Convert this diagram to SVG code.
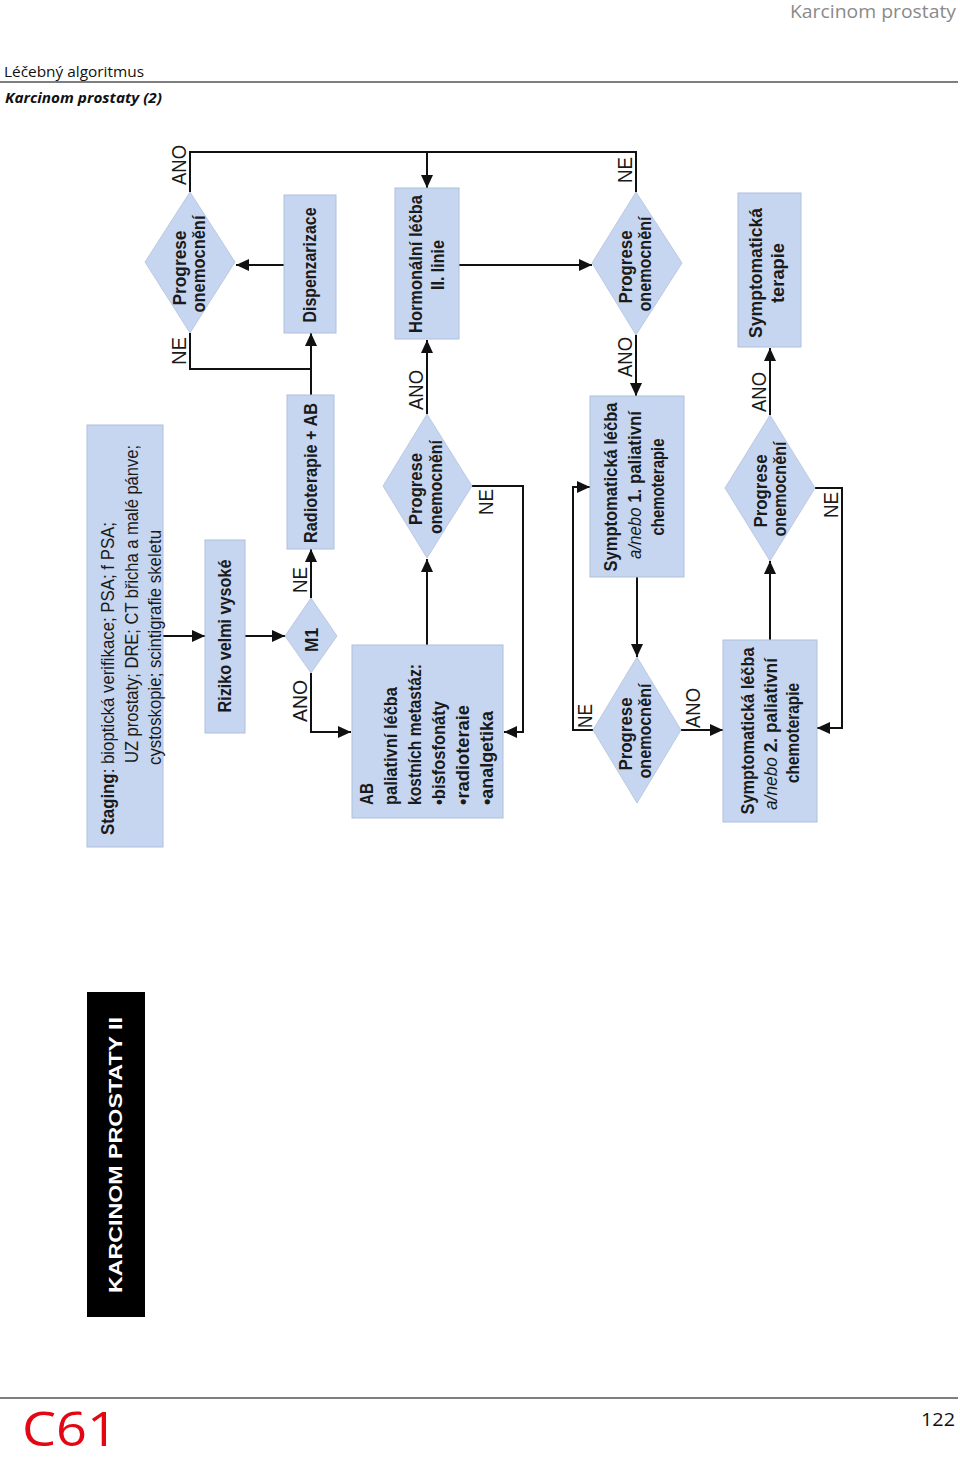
<svg xmlns="http://www.w3.org/2000/svg" width="960" height="1458" viewBox="0 0 960 1458">
<style>
.box{fill:#c6d6f1;stroke:#aebfdc;stroke-width:1}
.dia{fill:#c6d6f1;stroke:#b3c2dc;stroke-width:0.8}
.c{fill:none;stroke:#111;stroke-width:2}
.t{font-family:"Liberation Sans",Arial,sans-serif;font-size:18px;font-weight:bold;fill:#1a1a1a}
.n{font-family:"Liberation Sans",Arial,sans-serif;font-size:19px;fill:#1a1a1a}
.lbl{font-family:"Liberation Sans",Arial,sans-serif;font-size:21px;fill:#1a1a1a}
.hd{font-family:"Open Sans","Noto Sans",sans-serif}
</style>
<defs>
<marker id="ah" markerUnits="userSpaceOnUse" markerWidth="13" markerHeight="12" refX="13" refY="6" orient="auto">
<path d="M0,0 L13,6 L0,12 z" fill="#111"/>
</marker>
</defs>
<rect width="960" height="1458" fill="#fff"/>

<g id="page">
<text class="hd" x="956" y="18" font-size="18" fill="#8a8a8a" text-anchor="end" textLength="166" lengthAdjust="spacingAndGlyphs">Karcinom prostaty</text>
<text class="hd" x="4" y="77" font-size="15" fill="#111" textLength="140" lengthAdjust="spacingAndGlyphs">Léčebný algoritmus</text>
<line x1="0" y1="82" x2="958" y2="82" stroke="#555" stroke-width="1.5"/>
<text class="hd" x="5" y="103" font-size="15" font-weight="bold" font-style="italic" fill="#111" textLength="157" lengthAdjust="spacingAndGlyphs">Karcinom prostaty (2)</text>
<line x1="0" y1="1398" x2="958" y2="1398" stroke="#555" stroke-width="1.5"/>
<text class="hd" x="22" y="1446" font-size="48" fill="#e30613" textLength="96" lengthAdjust="spacingAndGlyphs">C61</text>
<text class="hd" x="955" y="1426" font-size="19" fill="#111" text-anchor="end" textLength="34" lengthAdjust="spacingAndGlyphs">122</text>
</g>

<g id="title-band">
<rect x="87" y="992" width="58" height="325" fill="#000"/>
<text transform="translate(122,1155) rotate(-90)" text-anchor="middle" font-family="Liberation Sans,Arial,sans-serif" font-size="18" font-weight="bold" fill="#fff" textLength="276" lengthAdjust="spacingAndGlyphs">KARCINOM PROSTATY II</text>
</g>

<g id="connectors">
<line class="c" x1="163" y1="636" x2="205" y2="636" marker-end="url(#ah)"/>
<line class="c" x1="245" y1="636" x2="285" y2="636" marker-end="url(#ah)"/>
<line class="c" x1="311" y1="598" x2="311" y2="549" marker-end="url(#ah)"/>
<polyline class="c" points="311,673 311,732 351,732" marker-end="url(#ah)"/>
<line class="c" x1="311" y1="395" x2="311" y2="333" marker-end="url(#ah)"/>
<polyline class="c" points="311,369 190,369 190,333"/>
<line class="c" x1="284" y1="265" x2="236" y2="265" marker-end="url(#ah)"/>
<polyline class="c" points="190,192 190,152 636,152 636,192"/>
<line class="c" x1="427" y1="152" x2="427" y2="188" marker-end="url(#ah)"/>
<line class="c" x1="459" y1="265" x2="592" y2="265" marker-end="url(#ah)"/>
<line class="c" x1="636" y1="335" x2="636" y2="396" marker-end="url(#ah)"/>
<line class="c" x1="637" y1="577" x2="637" y2="657" marker-end="url(#ah)"/>
<polyline class="c" points="593,730 573,730 573,487 590,487" marker-end="url(#ah)"/>
<line class="c" x1="681" y1="730" x2="723" y2="730" marker-end="url(#ah)"/>
<line class="c" x1="770" y1="640" x2="770" y2="561" marker-end="url(#ah)"/>
<line class="c" x1="770" y1="415" x2="770" y2="348" marker-end="url(#ah)"/>
<polyline class="c" points="815,488 842,488 842,728 817,728" marker-end="url(#ah)"/>
<line class="c" x1="427" y1="645" x2="427" y2="559" marker-end="url(#ah)"/>
<line class="c" x1="427" y1="414" x2="427" y2="340" marker-end="url(#ah)"/>
<polyline class="c" points="472,486 523,486 523,732 504,732" marker-end="url(#ah)"/>

<text class="lbl" transform="translate(186,165) rotate(-90)" text-anchor="middle" textLength="40" lengthAdjust="spacingAndGlyphs">ANO</text>
<text class="lbl" transform="translate(186,351) rotate(-90)" text-anchor="middle" textLength="28" lengthAdjust="spacingAndGlyphs">NE</text>
<text class="lbl" transform="translate(307,580) rotate(-90)" text-anchor="middle" textLength="26" lengthAdjust="spacingAndGlyphs">NE</text>
<text class="lbl" transform="translate(307,701) rotate(-90)" text-anchor="middle" textLength="42" lengthAdjust="spacingAndGlyphs">ANO</text>
<text class="lbl" transform="translate(423,390) rotate(-90)" text-anchor="middle" textLength="40" lengthAdjust="spacingAndGlyphs">ANO</text>
<text class="lbl" transform="translate(493,502) rotate(-90)" text-anchor="middle" textLength="26" lengthAdjust="spacingAndGlyphs">NE</text>
<text class="lbl" transform="translate(632,170) rotate(-90)" text-anchor="middle" textLength="26" lengthAdjust="spacingAndGlyphs">NE</text>
<text class="lbl" transform="translate(632,357) rotate(-90)" text-anchor="middle" textLength="40" lengthAdjust="spacingAndGlyphs">ANO</text>
<text class="lbl" transform="translate(592,716) rotate(-90)" text-anchor="middle" textLength="24" lengthAdjust="spacingAndGlyphs">NE</text>
<text class="lbl" transform="translate(700,708) rotate(-90)" text-anchor="middle" textLength="40" lengthAdjust="spacingAndGlyphs">ANO</text>
<text class="lbl" transform="translate(766,392) rotate(-90)" text-anchor="middle" textLength="40" lengthAdjust="spacingAndGlyphs">ANO</text>
<text class="lbl" transform="translate(838,505) rotate(-90)" text-anchor="middle" textLength="26" lengthAdjust="spacingAndGlyphs">NE</text>
</g>

<g id="staging">
<rect class="box" x="87" y="425" width="76" height="422"/>
<text class="n" transform="translate(114,835) rotate(-90)" textLength="313" lengthAdjust="spacingAndGlyphs"><tspan font-weight="bold">Staging</tspan>: bioptická verifikace; PSA; f PSA;</text>
<text class="n" transform="translate(138,763) rotate(-90)" textLength="318" lengthAdjust="spacingAndGlyphs">UZ prostaty; DRE; CT břicha a malé pánve;</text>
<text class="n" transform="translate(161,765) rotate(-90)" textLength="235" lengthAdjust="spacingAndGlyphs">cystoskopie; scintigrafie skeletu</text>
</g>

<g id="riziko">
<rect class="box" x="205" y="540" width="40" height="193"/>
<text class="t" font-size="19" transform="translate(231,636) rotate(-90)" text-anchor="middle" textLength="153" lengthAdjust="spacingAndGlyphs">Riziko velmi vysoké</text>
</g>

<g id="m1">
<polygon class="dia" points="285,636 311,598 337,636 311,673"/>
<text class="t" font-size="17" transform="translate(318,640) rotate(-90)" text-anchor="middle" textLength="24" lengthAdjust="spacingAndGlyphs">M1</text>
</g>

<g id="radioterapie">
<rect class="box" x="287" y="395" width="47" height="154"/>
<text class="t" transform="translate(317,473) rotate(-90)" text-anchor="middle" textLength="140" lengthAdjust="spacingAndGlyphs">Radioterapie + AB</text>
</g>

<g id="dispenzarizace">
<rect class="box" x="284" y="195" width="52" height="138"/>
<text class="t" transform="translate(316,265) rotate(-90)" text-anchor="middle" textLength="115" lengthAdjust="spacingAndGlyphs">Dispenzarizace</text>
</g>

<g id="progrese-1">
<polygon class="dia" points="145,262 190,192 235,262 190,333"/>
<text class="t" font-size="17" transform="translate(186,268) rotate(-90)" text-anchor="middle" textLength="75" lengthAdjust="spacingAndGlyphs">Progrese</text>
<text class="t" font-size="17" transform="translate(205,264) rotate(-90)" text-anchor="middle" textLength="97" lengthAdjust="spacingAndGlyphs">onemocnění</text>
</g>

<g id="ab-paliativni">
<rect class="box" x="352" y="645" width="151" height="173"/>
<text class="t" transform="translate(373,805) rotate(-90)" textLength="22" lengthAdjust="spacingAndGlyphs">AB</text>
<text class="t" transform="translate(397,805) rotate(-90)" textLength="118" lengthAdjust="spacingAndGlyphs">paliativní léčba</text>
<text class="t" transform="translate(421,805) rotate(-90)" textLength="141" lengthAdjust="spacingAndGlyphs">kostních metastáz:</text>
<text class="t" transform="translate(445,805) rotate(-90)" textLength="104" lengthAdjust="spacingAndGlyphs">•bisfosfonáty</text>
<text class="t" transform="translate(469,805) rotate(-90)" textLength="100" lengthAdjust="spacingAndGlyphs">•radioteraie</text>
<text class="t" transform="translate(493,805) rotate(-90)" textLength="94" lengthAdjust="spacingAndGlyphs">•analgetika</text>
</g>

<g id="progrese-2">
<polygon class="dia" points="383,486 427,414 472,486 427,558"/>
<text class="t" font-size="17" transform="translate(422,489) rotate(-90)" text-anchor="middle" textLength="72" lengthAdjust="spacingAndGlyphs">Progrese</text>
<text class="t" font-size="17" transform="translate(442,487) rotate(-90)" textLength="94" text-anchor="middle" lengthAdjust="spacingAndGlyphs">onemocnění</text>
</g>

<g id="hormonalni">
<rect class="box" x="395" y="188" width="64" height="151"/>
<text class="t" transform="translate(422,264) rotate(-90)" text-anchor="middle" textLength="138" lengthAdjust="spacingAndGlyphs">Hormonální léčba</text>
<text class="t" transform="translate(444,265) rotate(-90)" text-anchor="middle" textLength="50" lengthAdjust="spacingAndGlyphs">II. linie</text>
</g>

<g id="progrese-3">
<polygon class="dia" points="592,263 636,192 682,263 636,335"/>
<text class="t" font-size="17" transform="translate(632,267) rotate(-90)" text-anchor="middle" textLength="73" lengthAdjust="spacingAndGlyphs">Progrese</text>
<text class="t" font-size="17" transform="translate(651,264) rotate(-90)" text-anchor="middle" textLength="95" lengthAdjust="spacingAndGlyphs">onemocnění</text>
</g>

<g id="sympt-1">
<rect class="box" x="590" y="396" width="94" height="181"/>
<text class="t" transform="translate(617,487) rotate(-90)" text-anchor="middle" textLength="169" lengthAdjust="spacingAndGlyphs">Symptomatická léčba</text>
<text class="t" transform="translate(641,485) rotate(-90)" text-anchor="middle" textLength="148" lengthAdjust="spacingAndGlyphs"><tspan font-weight="normal" font-style="italic">a/nebo</tspan> 1. paliativní</text>
<text class="t" transform="translate(664,487) rotate(-90)" text-anchor="middle" textLength="97" lengthAdjust="spacingAndGlyphs">chemoterapie</text>
</g>

<g id="progrese-4">
<polygon class="dia" points="593,730 637,657 681,730 637,803"/>
<text class="t" font-size="17" transform="translate(632,734) rotate(-90)" text-anchor="middle" textLength="73" lengthAdjust="spacingAndGlyphs">Progrese</text>
<text class="t" font-size="17" transform="translate(651,731) rotate(-90)" text-anchor="middle" textLength="95" lengthAdjust="spacingAndGlyphs">onemocnění</text>
</g>

<g id="sympt-2">
<rect class="box" x="723" y="640" width="94" height="182"/>
<text class="t" transform="translate(754,731) rotate(-90)" text-anchor="middle" textLength="167" lengthAdjust="spacingAndGlyphs">Symptomatická léčba</text>
<text class="t" transform="translate(777,734) rotate(-90)" text-anchor="middle" textLength="152" lengthAdjust="spacingAndGlyphs"><tspan font-weight="normal" font-style="italic">a/nebo</tspan> 2. paliativní</text>
<text class="t" transform="translate(799,733) rotate(-90)" text-anchor="middle" textLength="100" lengthAdjust="spacingAndGlyphs">chemoterapie</text>
</g>

<g id="progrese-5">
<polygon class="dia" points="725,488 770,415 815,488 770,561"/>
<text class="t" font-size="17" transform="translate(767,491) rotate(-90)" text-anchor="middle" textLength="73" lengthAdjust="spacingAndGlyphs">Progrese</text>
<text class="t" font-size="17" transform="translate(786,489) rotate(-90)" text-anchor="middle" textLength="95" lengthAdjust="spacingAndGlyphs">onemocnění</text>
</g>

<g id="sympt-terapie">
<rect class="box" x="738" y="193" width="63" height="154"/>
<text class="t" transform="translate(762,273) rotate(-90)" text-anchor="middle" textLength="130" lengthAdjust="spacingAndGlyphs">Symptomatická</text>
<text class="t" transform="translate(784,273) rotate(-90)" text-anchor="middle" textLength="60" lengthAdjust="spacingAndGlyphs">terapie</text>
</g>
</svg>
